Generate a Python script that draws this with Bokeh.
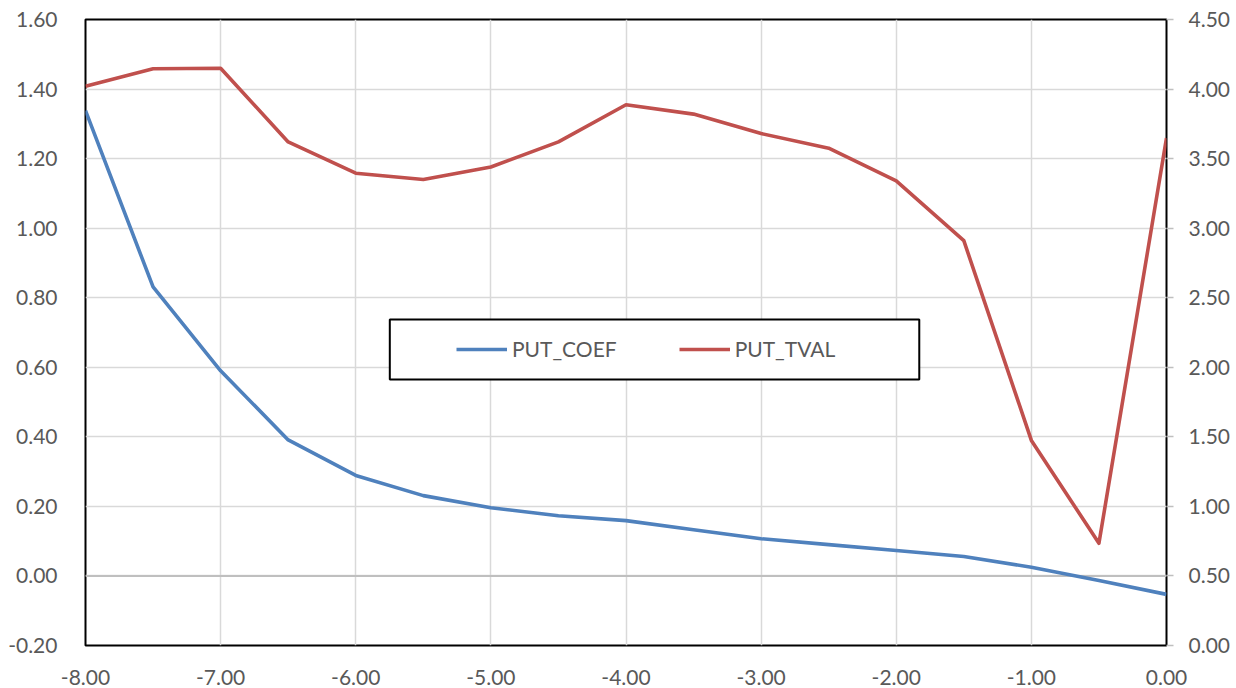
from bokeh.plotting import figure
from bokeh.models import (Range1d, LinearAxis, FixedTicker, NumeralTickFormatter,
                          Span, Legend, LegendItem, BoxAnnotation)
from bokeh.embed import file_html
from bokeh.resources import INLINE

# ---- data ----
x_vals = [-8.0, -7.5, -7.0, -6.5, -6.0, -5.5, -5.0, -4.5, -4.0, -3.5, -3.0,
          -2.5, -2.0, -1.5, -1.0, -0.5, 0.0]
put_coef = [1.338, 0.831, 0.590, 0.391, 0.289, 0.231, 0.196, 0.173, 0.159,
            0.133, 0.107, 0.090, 0.073, 0.056, 0.025, -0.013, -0.053]
put_tval = [4.02, 4.146, 4.15, 3.62, 3.395, 3.35, 3.44, 3.62, 3.887, 3.82,
            3.68, 3.575, 3.34, 2.91, 1.474, 0.735, 3.647]
x_ticks = [-8, -7, -6, -5, -4, -3, -2, -1, 0]
left_ticks = [-0.2, 0.0, 0.2, 0.4, 0.6, 0.8, 1.0, 1.2, 1.4, 1.6]
right_ticks = [0.0, 0.5, 1.0, 1.5, 2.0, 2.5, 3.0, 3.5, 4.0, 4.5]

X0, X1 = -8.0, 0.0
Y0, Y1 = -0.2, 1.6
R0, R1 = 0.0, 4.5

FONT = "Lato"
TXT = "#595959"
GRID = "#D9D9D9"
BLUE = "#4F81BD"
RED = "#C0504D"

p = figure(width=1236, height=688, output_backend="svg", toolbar_location=None,
           x_range=Range1d(X0, X1), y_range=Range1d(Y0, Y1),
           min_border_left=85, min_border_right=70, min_border_top=19,
           min_border_bottom=43)
p.extra_y_ranges = {"right": Range1d(R0, R1)}
p.background_fill_color = "white"
p.border_fill_color = "white"
p.outline_line_color = "black"
p.outline_line_width = 2

# axes
def style_axis(ax):
    ax.major_label_text_font = FONT
    ax.major_label_text_font_size = "21px"
    ax.major_label_text_color = TXT
    ax.axis_line_color = None
    ax.minor_tick_line_color = None
    ax.formatter = NumeralTickFormatter(format="0.00")

xa = p.xaxis[0]
style_axis(xa)
xa.ticker = FixedTicker(ticks=x_ticks)
xa.major_tick_line_color = None
xa.major_label_standoff = 18

ya = p.yaxis[0]
style_axis(ya)
ya.ticker = FixedTicker(ticks=left_ticks)
ya.major_tick_line_color = None
ya.major_label_standoff = 22

ra = LinearAxis(y_range_name="right")
style_axis(ra)
ra.ticker = FixedTicker(ticks=right_ticks)
ra.major_tick_line_color = "#BFBFBF"
ra.major_tick_line_width = 1.5
ra.major_tick_out = 7
ra.major_tick_in = 0
ra.major_label_standoff = 15
p.add_layout(ra, "right")

# grids
p.xgrid.ticker = FixedTicker(ticks=x_ticks)
p.ygrid.ticker = FixedTicker(ticks=left_ticks)
p.grid.grid_line_color = GRID
p.grid.grid_line_width = 1.5

zero = Span(location=0, dimension="width", line_color="#BFBFBF", line_width=2,
            level="underlay")
p.add_layout(zero)

# lines
r1 = p.line(x_vals, put_coef, line_color=BLUE, line_width=3.6, line_join="round")
r2 = p.line(x_vals, put_tval, line_color=RED, line_width=3.6, line_join="round",
            y_range_name="right")

# legend box (layout as fractions of the frame)
bx_l = X0 + 0.2815 * (X1 - X0)
bx_r = X0 + 0.7713 * (X1 - X0)
by_b = Y0 + 0.4249 * (Y1 - Y0)
by_t = Y0 + 0.5208 * (Y1 - Y0)
box = BoxAnnotation(left=bx_l, right=bx_r, bottom=by_b, top=by_t,
                    fill_color="white", fill_alpha=1.0, line_color="black",
                    line_width=2, line_alpha=1.0, editable=False)
p.add_layout(box)

legend = Legend(items=[LegendItem(label="PUT_COEF", renderers=[r1]),
                       LegendItem(label="PUT_TVAL", renderers=[r2])],
                orientation="horizontal", location=(366, 279), padding=5,
                spacing=62, glyph_width=51, glyph_height=24, label_height=24,
                label_width=100, label_standoff=5,
                label_text_font=FONT, label_text_font_size="21px",
                label_text_color=TXT, border_line_alpha=0,
                background_fill_alpha=0)
p.add_layout(legend, "center")

open("out.html", "w").write(file_html(p, INLINE))
